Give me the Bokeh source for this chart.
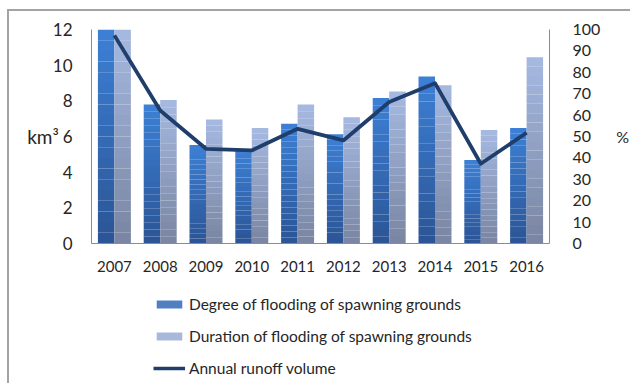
from bokeh.plotting import figure
from bokeh.layouts import column
from bokeh.models import (Range1d, LinearAxis, FixedTicker, FactorRange, Legend,
                          LegendItem, ColumnDataSource)
from bokeh.transform import dodge
from bokeh.embed import file_html
from bokeh.resources import INLINE

# ---- data -----------------------------------------------------------------
years = ["2007", "2008", "2009", "2010", "2011", "2012", "2013", "2014", "2015", "2016"]
degree_pct = [100, 65, 46, 44, 56, 51, 68, 78, 39, 54]        # degree of flooding, %
duration_pct = [100, 67, 58, 54, 65, 59, 71, 74, 53, 87]      # duration of flooding, %
runoff_km3 = [11.67, 7.46, 5.31, 5.22, 6.43, 5.78, 7.93, 8.99, 4.47, 6.21]
left_ticks = [0, 2, 4, 6, 8, 10, 12]
right_ticks = [0, 10, 20, 30, 40, 50, 60, 70, 80, 90, 100]

FONT = "Lato"
TEXT = "#262626"
AXIS = "#8c8c8c"
FRAME = "2px solid #a3a3a3"
DARK_LINE = "#1f3e6c"


def mix(c1, c2, t):
    a = [int(c1[i:i + 2], 16) for i in (1, 3, 5)]
    b = [int(c2[i:i + 2], 16) for i in (1, 3, 5)]
    return "#" + "".join(f"{round(x + (y - x) * t):02x}" for x, y in zip(a, b))


def gradient_source(values, bottom_color, top_color, n=20):
    """Split every bar into thin horizontal slices shaded bottom -> top."""
    xs, bottoms, tops, colors = [], [], [], []
    for yr, v in zip(years, values):
        for k in range(n):
            xs.append(yr)
            bottoms.append(v * k / n)
            tops.append(v * (k + 1) / n)
            colors.append(mix(bottom_color, top_color, k / (n - 1)))
    return ColumnDataSource(dict(x=xs, bottom=bottoms, top=tops, color=colors))


# ---- main chart -------------------------------------------------------------
p = figure(
    width=623, height=274, margin=(9, 0, 0, 7),
    x_range=FactorRange(factors=years, range_padding=0),
    y_range=Range1d(0, 12),
    output_backend="svg", toolbar_location=None,
    min_border_left=82, min_border_right=82, min_border_top=18, min_border_bottom=42,
)
p.styles = {"border-left": FRAME, "border-top": FRAME}
p.extra_y_ranges = {"pct": Range1d(0, 100)}
p.outline_line_color = None
p.grid.visible = False

# bars (percent scale)
dark_src = gradient_source(degree_pct, "#2b5596", "#3d7fd4")
light_src = gradient_source(duration_pct, "#7a86a3", "#a5b8e0")
p.vbar(x=dodge("x", -0.18, range=p.x_range), bottom="bottom", top="top", width=0.36,
       fill_color="color", line_color=None, source=dark_src, y_range_name="pct")
p.vbar(x=dodge("x", 0.18, range=p.x_range), bottom="bottom", top="top", width=0.36,
       fill_color="color", line_color=None, source=light_src, y_range_name="pct")

# runoff line (km3 scale)
p.line(x=years, y=runoff_km3, line_width=3.8, line_color=DARK_LINE, line_join="round")

# axes
p.xaxis.axis_line_color = AXIS
p.xaxis.major_tick_line_color = None
p.xaxis.minor_tick_line_color = None
p.xaxis.major_label_standoff = 11
p.xaxis.major_label_text_font = FONT
p.xaxis.major_label_text_font_size = "15px"
p.xaxis.major_label_text_color = TEXT

p.yaxis.ticker = FixedTicker(ticks=left_ticks)
p.yaxis.axis_line_color = AXIS
p.yaxis.major_tick_line_color = None
p.yaxis.minor_tick_line_color = None
p.yaxis.major_label_standoff = 13
p.yaxis.major_label_text_font = FONT
p.yaxis.major_label_text_font_size = "17px"
p.yaxis.major_label_text_color = TEXT
p.yaxis.axis_label = "km³"
p.yaxis.axis_label_orientation = "horizontal"
p.yaxis.axis_label_standoff = -9
p.yaxis.axis_label_text_font = FONT
p.yaxis.axis_label_text_font_style = "normal"
p.yaxis.axis_label_text_font_size = "19px"
p.yaxis.axis_label_text_color = TEXT

raxis = LinearAxis(y_range_name="pct", ticker=FixedTicker(ticks=right_ticks))
raxis.axis_line_color = AXIS
raxis.major_tick_line_color = None
raxis.minor_tick_line_color = None
raxis.major_label_standoff = 17
raxis.major_label_text_font = FONT
raxis.major_label_text_font_size = "16px"
raxis.major_label_text_color = TEXT
raxis.axis_label = "%"
raxis.axis_label_orientation = "horizontal"
raxis.axis_label_standoff = 13
raxis.axis_label_text_font = FONT
raxis.axis_label_text_font_style = "normal"
raxis.axis_label_text_font_size = "16px"
raxis.axis_label_text_color = TEXT
p.add_layout(raxis, "right")

# ---- legend strip ---------------------------------------------------------------
q = figure(
    width=623, height=100, margin=(0, 0, 0, 7),
    x_range=Range1d(0, 1), y_range=Range1d(0, 1),
    x_axis_type=None, y_axis_type=None,
    output_backend="svg", toolbar_location=None, min_border=0,
)
q.styles = {"border-left": FRAME}
q.outline_line_color = None
q.grid.visible = False

# zero-size keys: they only carry the swatch styles for the legend
r_dark = q.vbar(x=[0], bottom=[0], top=[0], width=0, fill_color="#5180c2", line_color=None)
r_light = q.vbar(x=[0], bottom=[0], top=[0], width=0, fill_color="#a8b8da", line_color=None)
r_line = q.line(x=[0, 0], y=[0, 0], line_width=3.5, line_color=DARK_LINE)

legend = Legend(items=[
    LegendItem(label="Degree of flooding of spawning grounds", renderers=[r_dark], index=0),
    LegendItem(label="Duration of flooding of spawning grounds", renderers=[r_light], index=0),
    LegendItem(label="Annual runoff volume", renderers=[r_line]),
], location=(62, 5))
legend.border_line_color = None
legend.background_fill_alpha = 0
legend.padding = 0
legend.margin = 0
legend.spacing = 12
legend.glyph_width = 32
legend.glyph_height = 10
legend.label_height = 20
legend.label_standoff = 4
legend.label_text_font = FONT
legend.label_text_font_size = "15.5px"
legend.label_text_color = TEXT
q.add_layout(legend, "center")

layout = column(p, q, spacing=0)
open("out.html", "w").write(file_html(layout, INLINE))
